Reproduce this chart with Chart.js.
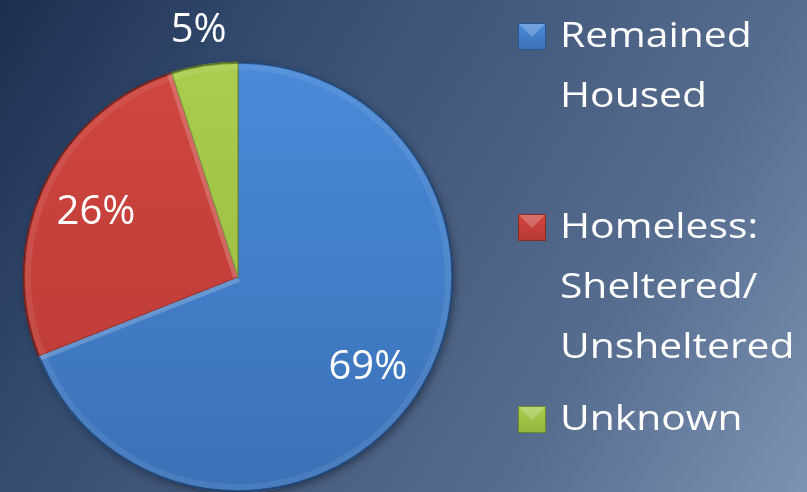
<!DOCTYPE html>
<html>
<head>
<meta charset="utf-8">
<script src="https://cdn.jsdelivr.net/npm/chart.js@4"></script>
<style>
  html, body { margin: 0; padding: 0; background: #1e3153; }
  #wrap { width: 807px; height: 492px; position: relative; }
</style>
</head>
<body>
<div id="wrap"><canvas id="c" width="807" height="492"></canvas></div>
<script>
const categories = ["Remained Housed", "Homeless: Sheltered/ Unsheltered", "Unknown"];
const legendLines = [["Remained", "Housed"], ["Homeless:", "Sheltered/", "Unsheltered"], ["Unknown"]];
const values = [69, 26, 5];
const valueLabels = ["69%", "26%", "5%"];
const sliceTop = ["#4a8ad8", "#d0453f", "#aacd4e"];
const sliceBottom = ["#3a71b7", "#b83a36", "#93b53e"];
const sliceEdge = ["#2a5690", "#8a2a27", "#6e8a2a"];

const bgPlugin = {
  id: 'bg',
  beforeDraw(chart) {
    const ctx = chart.ctx, w = chart.width, h = chart.height;
    const g = ctx.createLinearGradient(0, 0, w, h);
    g.addColorStop(0, '#1c2f51');
    g.addColorStop(0.27, '#354c70');
    g.addColorStop(0.5, '#465c7f');
    g.addColorStop(0.73, '#566d90');
    g.addColorStop(1, '#7c93b3');
    ctx.save();
    ctx.fillStyle = g;
    ctx.fillRect(0, 0, w, h);
    ctx.restore();
  }
};

const shadowPlugin = {
  id: 'pieShadow',
  beforeDatasetsDraw(chart) {
    const arc = chart.getDatasetMeta(0).data[0];
    if (!arc) return;
    const ctx = chart.ctx;
    ctx.save();
    ctx.shadowColor = 'rgba(0,0,0,0.45)';
    ctx.shadowBlur = 8;
    ctx.shadowOffsetX = 2;
    ctx.shadowOffsetY = 3;
    ctx.fillStyle = '#2a4a7a';
    ctx.beginPath();
    ctx.arc(arc.x, arc.y, arc.outerRadius - 1, 0, Math.PI * 2);
    ctx.fill();
    ctx.restore();
  }
};

const bevelPlugin = {
  id: 'bevel',
  afterDatasetsDraw(chart) {
    const meta = chart.getDatasetMeta(0);
    const ctx = chart.ctx;
    meta.data.forEach((a, i) => {
      const p = a.getProps(['x','y','startAngle','endAngle','outerRadius']);
      ctx.save();
      ctx.beginPath();
      ctx.moveTo(p.x, p.y);
      ctx.arc(p.x, p.y, p.outerRadius, p.startAngle, p.endAngle);
      ctx.closePath();
      ctx.clip();
      // soft highlight along the outer rim
      ctx.strokeStyle = 'rgba(255,255,255,0.08)';
      ctx.lineWidth = 6;
      ctx.beginPath();
      ctx.arc(p.x, p.y, p.outerRadius - 5, p.startAngle, p.endAngle);
      ctx.stroke();
      // highlight along radial edges that face upward
      const edges = [[p.startAngle, Math.sin(p.startAngle)], [p.endAngle, -Math.sin(p.endAngle)]];
      // outward normal y for start edge = -cos(start); for end edge = cos(end)
      const faceUp = [-Math.cos(p.startAngle) < -0.2, Math.cos(p.endAngle) < -0.2];
      [p.startAngle, p.endAngle].forEach((ang, k) => {
        if (!faceUp[k]) return;
        ctx.strokeStyle = 'rgba(255,255,255,0.2)';
        ctx.lineWidth = 10;
        ctx.beginPath();
        ctx.moveTo(p.x, p.y);
        ctx.lineTo(p.x + Math.cos(ang) * p.outerRadius, p.y + Math.sin(ang) * p.outerRadius);
        ctx.stroke();
      });
      // dark rim
      ctx.strokeStyle = 'rgba(0,0,0,0.35)';
      ctx.lineWidth = 2.5;
      ctx.beginPath();
      ctx.arc(p.x, p.y, p.outerRadius - 0.5, p.startAngle, p.endAngle);
      ctx.stroke();
      ctx.restore();
    });
  }
};

const labelPlugin = {
  id: 'valueLabels',
  afterDatasetsDraw(chart) {
    const meta = chart.getDatasetMeta(0);
    const ctx = chart.ctx;
    const total = values.reduce((s, v) => s + v, 0);
    ctx.save();
    ctx.font = '40px "Open Sans"';
    ctx.fillStyle = '#ffffff';
    ctx.textAlign = 'center';
    ctx.textBaseline = 'middle';
    meta.data.forEach((a, i) => {
      const p = a.getProps(['x','y','startAngle','endAngle','outerRadius']);
      const mid = (p.startAngle + p.endAngle) / 2;
      const frac = values[i] / total;
      const r = frac < 0.1 ? p.outerRadius * 1.17 : p.outerRadius * 0.73;
      ctx.fillText(valueLabels[i], p.x + Math.cos(mid) * r, p.y + Math.sin(mid) * r + 2);
    });
    ctx.restore();
  }
};

const legendPlugin = {
  id: 'customLegend',
  afterDraw(chart) {
    const ctx = chart.ctx;
    const textX = 560, boxX = 518, box = 28, lineH = 60;
    const firstBaselines = [47, 238, 430];
    ctx.save();
    ctx.font = '34px "Open Sans"';
    ctx.textBaseline = 'alphabetic';
    legendLines.forEach((lines, i) => {
      const b0 = firstBaselines[i];
      const by = b0 - 24;
      const g = ctx.createLinearGradient(0, by, 0, by + box - 1);
      g.addColorStop(0, sliceTop[i]);
      g.addColorStop(1, sliceBottom[i]);
      ctx.fillStyle = g;
      ctx.fillRect(boxX, by, box, box - 1);
      ctx.strokeStyle = sliceEdge[i];
      ctx.lineWidth = 1;
      ctx.strokeRect(boxX + 0.5, by + 0.5, box - 1, box - 2);
      ctx.fillStyle = 'rgba(255,255,255,0.22)';
      ctx.beginPath();
      ctx.moveTo(boxX + 1, by + 1);
      ctx.lineTo(boxX + box - 1, by + 1);
      ctx.lineTo(boxX + box / 2, by + box / 2);
      ctx.closePath();
      ctx.fill();
      ctx.fillStyle = '#ffffff';
      lines.forEach((t, k) => {
        ctx.save();
        ctx.translate(textX, b0 + k * lineH);
        ctx.scale(1.2, 1);
        ctx.fillText(t, 0, 0);
        ctx.restore();
      });
    });
    ctx.restore();
  }
};

new Chart(document.getElementById('c'), {
  type: 'pie',
  data: {
    labels: categories,
    datasets: [{
      data: values,
      backgroundColor: (c) => {
        const chart = c.chart;
        const i = c.dataIndex;
        const a = chart.chartArea;
        if (!a) return sliceTop[i];
        const g = chart.ctx.createLinearGradient(0, a.top, 0, a.bottom);
        g.addColorStop(0, sliceTop[i]);
        g.addColorStop(1, sliceBottom[i]);
        return g;
      },
      borderColor: sliceEdge,
      borderWidth: 1
    }]
  },
  options: {
    responsive: false,
    animation: false,
    radius: 215,
    layout: { padding: { left: 23, top: 62, right: 354, bottom: 0 } },
    plugins: {
      legend: { display: false },
      tooltip: { enabled: false },
      title: { display: false }
    }
  },
  plugins: [bgPlugin, shadowPlugin, bevelPlugin, labelPlugin, legendPlugin]
});
</script>
</body>
</html>
